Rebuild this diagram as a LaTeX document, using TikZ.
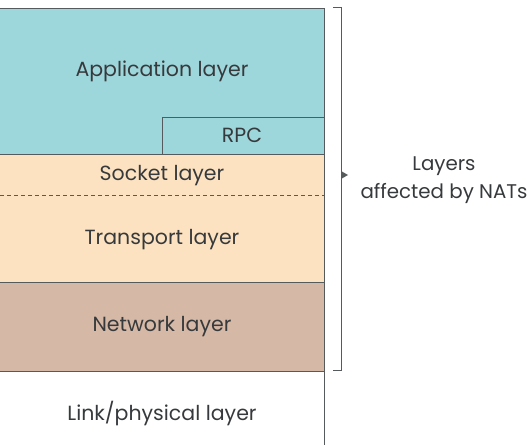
\documentclass[tikz,border=0pt]{standalone}
\usepackage{fontspec}
\setmainfont{Poppins}
\usetikzlibrary{positioning}

\definecolor{appcol}{RGB}{157,214,219}
\definecolor{transcol}{RGB}{253,226,193}
\definecolor{netcol}{RGB}{214,184,166}
\definecolor{linecol}{RGB}{85,90,92}
\definecolor{textcol}{RGB}{55,58,60}

\tikzset{
  layerbox/.style={draw=linecol, line width=0.8pt, inner sep=0pt, outer sep=0pt, anchor=north west},
  layertext/.style={text=textcol, font=\fontsize{20.5}{28}\selectfont, inner sep=0pt},
}

\begin{document}
\begin{tikzpicture}[x=1pt,y=-1pt]
    \path[use as bounding box, clip] (0,0) rectangle (532,444);

    % capas
    \node[layerbox, fill=appcol, minimum width=326pt, minimum height=146pt] (appbox) at (-2,8) {};
    \node[layerbox, fill=appcol, minimum width=162pt, minimum height=37pt] (rpcbox) at (162,117) {};
    \node[layerbox, fill=transcol, minimum width=326pt, minimum height=128pt] (transbox) at (-2,154) {};
    \node[layerbox, fill=netcol, minimum width=326pt, minimum height=89pt] (netbox) at (-2,282) {};

    % linea punteada entre socket y transporte
    \coordinate (dashl) at (0,195);
    \coordinate (dashr) at (324,195);
    \draw[linecol, line width=0.8pt, dash pattern=on 4pt off 3pt] (dashl) -- (dashr);

    % borde derecho de la capa fisica
    \coordinate (linktop) at (324,371);
    \coordinate (linkbot) at (324,446);
    \draw[linecol, line width=0.8pt] (linktop) -- (linkbot);

    % etiquetas
    \node[layertext] (applbl) at (162,71) {Application layer};
    \node[layertext] (rpclbl) at (242,135) {RPC};
    \node[layertext] (socklbl) at (162,176) {Socket layer};
    \node[layertext] (translbl) at (162,240) {Transport layer};
    \node[layertext] (netlbl) at (162,327) {Network layer};
    \node[layertext] (linklbl) at (162,414) {Link/physical layer};

    % llave
    \coordinate (brtop) at (333,8);
    \coordinate (brbot) at (333,370);
    \coordinate (brtip) at (341,175);
    \draw[linecol, line width=1pt] (brtop) -- ++(8,0) -- ++(0,362) -- (brbot);
    \fill[linecol] (brtip) -- ++(0,-4) -- ++(7,4) -- ++(-7,4) -- cycle;

    % leyenda
    \node[layertext, align=center, font=\fontsize{19.8}{28}\selectfont] (natlbl) at (444,180) {Layers\\affected by NATs};

\end{tikzpicture}
\end{document}
